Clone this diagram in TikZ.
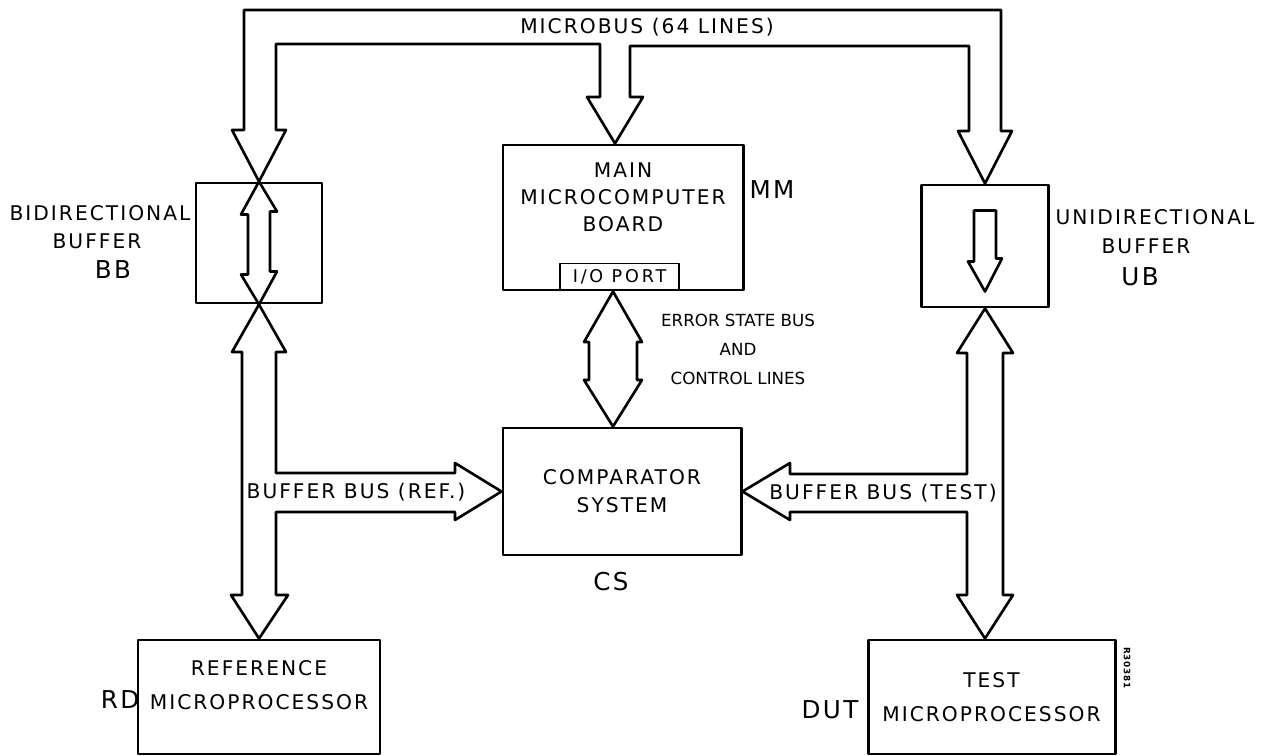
\documentclass[tikz,border=0pt]{standalone}
\usepackage{fontspec}
\setmainfont{DejaVu Sans}[LetterSpace=10]
\usetikzlibrary{calc}
\newcommand{\pxu}{0.02cm}

\begin{document}
\begin{tikzpicture}[x=0.02cm,y=-0.02cm,line join=round,
    box/.style={draw,line width=1.7pt,inner sep=0pt,align=center},
    iobox/.style={draw,line width=1.1pt,inner sep=0pt,minimum width=119*\pxu,minimum height=27*\pxu,
      font=\fontsize{10}{11}\selectfont\addfontfeature{LetterSpace=16}},
    bus/.style={draw,line width=1.5pt},
    txt/.style={align=center,font=\fontsize{11.5}{15.5}\selectfont},
    tag/.style={font=\fontsize{14}{16}\selectfont}]
  \useasboundingbox (0,0) rectangle (1261,756);

  % blocks
  \node[box,minimum width=126*\pxu,minimum height=120*\pxu] (bb) at (259,243) {};
  \node[box,minimum width=240*\pxu,minimum height=145*\pxu] (mm) at (623,217.5) {};
  \node[iobox,anchor=south] (io) at ($(mm.south)+(-3.5,0)$) {I/O PORT};
  \node[box,minimum width=127*\pxu,minimum height=122*\pxu] (ub) at (985,246) {};
  \node[box,minimum width=238*\pxu,minimum height=127*\pxu,font=\fontsize{11.5}{16}\selectfont] (cs) at (622,491.5) {COMPARATOR\\SYSTEM};
  \node[box,minimum width=242*\pxu,minimum height=114*\pxu] (rd) at (259,697) {};
  \node[box,minimum width=247*\pxu,minimum height=114*\pxu,font=\fontsize{11.5}{19}\selectfont] (dut) at (991.5,697) {TEST\\MICROPROCESSOR};

  \node[txt] (mmtext) at ($(mm.center)+(0,-20)$) {MAIN\\MICROCOMPUTER\\BOARD};
  \node[txt,font=\fontsize{11.5}{19}\selectfont] (rdtext) at ($(rd.center)+(0,-12)$) {REFERENCE\\MICROPROCESSOR};

  % microbus
  \coordinate (mmtip) at ($(mm.north)+(-8,0)$);
  \draw[bus] (bb.north) -- (232,130) -- (244,130) -- (244,10) -- (1001,10) -- (1001,131)
    -- (1012,131) -- (ub.north) -- (958,131) -- (969,131) -- (969,46) -- (630,46)
    -- (630,97) -- (643,97) -- (mmtip) -- (587,97) -- (600,97) -- (600,44)
    -- (276,44) -- (276,130) -- (286,130) -- cycle;
  \node[txt] (mbus) at (647,27) {MICROBUS (64 LINES)};

  % buffer arrows
  \draw[bus] (bb.north) -- ++(18,30) -- ++(-7,0) -- ++(0,60) -- ++(7,0) -- (bb.south)
    -- ++(-18,-30) -- ++(7,0) -- ++(0,-60) -- ++(-7,0) -- cycle;
  \draw[bus] ($(ub.north)+(-11,27)$) -- ++(22,0) -- ++(0,48) -- ++(6,0)
    -- ($(ub.south)+(0,-17)$) -- ++(-17,-30) -- ++(6,0) -- cycle;

  % error state bus
  \coordinate (esb) at ($(mm.south)+(-10,0)$);
  \draw[bus] (esb) -- (642,342) -- (637,342) -- (637,380) -- (642,380) -- (esb |- cs.north)
    -- (584,380) -- (589,380) -- (589,342) -- (584,342) -- cycle;
  \node[txt,font=\fontsize{9.5}{16.5}\selectfont\addfontfeature{LetterSpace=0}] (esbtext) at (738,349) {ERROR STATE BUS\\AND\\CONTROL LINES};

  % buffer buses
  \draw[bus] (bb.south) -- (286,352) -- (276,352) -- (276,473) -- (455,473) -- (455,463)
    -- (cs.west) -- (455,520) -- (455,512) -- (276,512) -- (276,595) -- (288,595)
    -- (rd.north) -- (231,595) -- (242,595) -- (242,352) -- (232,352) -- cycle;
  \draw[bus] (ub.south) -- (1013,353) -- (1003,353) -- (1003,595) -- (1013,595)
    -- (ub.south |- dut.north) -- (957,595) -- (967,595) -- (967,512) -- (790,512)
    -- (790,520) -- (cs.east) -- (790,463) -- (790,474) -- (967,474) -- (967,353)
    -- (957,353) -- cycle;
  \node[txt,fill=white,inner sep=1pt] (refbus) at (356,492) {BUFFER BUS (REF.)};
  \node[txt,fill=white,inner sep=1pt] (testbus) at (883,493) {BUFFER BUS (TEST)};

  % names
  \node[txt] (bbname) at (100,213) {BIDIRECTIONAL};
  \node[txt] (bbname2) at (97,241) {BUFFER};
  \node[tag] (bbtag) at (113,270) {BB};
  \node[txt] (ubname) at (1155,217) {UNIDIRECTIONAL};
  \node[txt] (ubname2) at (1146,246) {BUFFER};
  \node[tag] (ubtag) at (1140,277) {UB};
  \node[tag] (mmtag) at (772,190) {MM};
  \node[tag] (cstag) at (611,582) {CS};
  \node[tag] (rdtag) at (120,700) {RD};
  \node[tag] (duttag) at (830,710) {DUT};
  \node[rotate=-90,font=\fontsize{5}{6}\selectfont\bfseries] (code) at (1127,668) {R30381};
\end{tikzpicture}
\end{document}
